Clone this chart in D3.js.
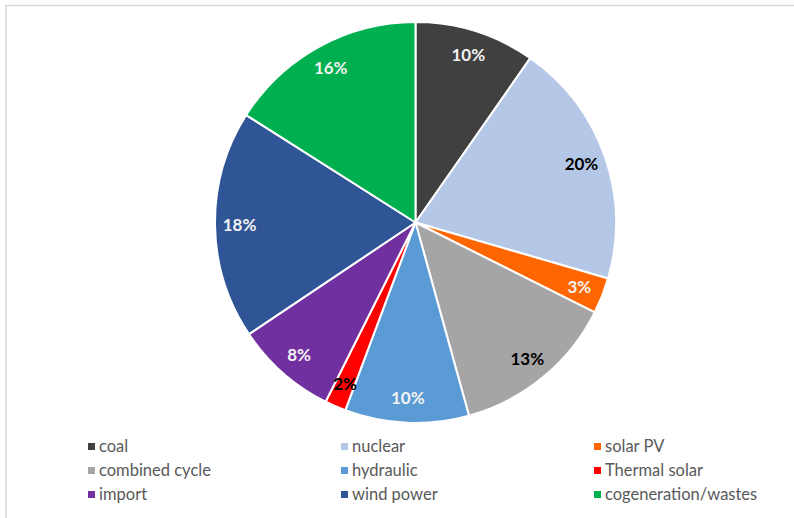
<!DOCTYPE html>
<html><head><meta charset="utf-8">
<script src="https://cdn.jsdelivr.net/npm/d3@7"></script>
<style>body{margin:0;background:#fff;} svg{display:block;}</style>
</head><body>
<svg id="c" width="794" height="518"></svg>
<script>
const categories = ["coal","nuclear","solar PV","combined cycle","hydraulic","Thermal solar","import","wind power","cogeneration/wastes"];
const values = [9.7, 19.8, 2.9, 13.3, 10.0, 1.7, 8.2, 18.4, 16.0];
const colors = ["#404040","#b4c7e7","#ff6600","#a5a5a5","#5b9bd5","#ff0000","#7030a0","#2f5597","#00b050"];
const labelColors = ["#f2f2f2","#000000","#f2f2f2","#000000","#f2f2f2","#000000","#f2f2f2","#f2f2f2","#f2f2f2"];

const svg = d3.select("#c");
const W = 794, H = 518;
const font = "Lato, 'Open Sans', sans-serif";

svg.append("rect").attr("x",6).attr("y",5.5).attr("width",W+10).attr("height",H+10)
  .attr("fill","#fff").attr("stroke","#d9d9d9").attr("stroke-width",1.5);

const cx = 415.5, cy = 222.5, R = 200.5;
const data = categories.map((c,i)=>({cat:c, v:values[i], i}));
const total = d3.sum(values);
const pie = d3.pie().value(d=>d.v).sort(null);
const arc = d3.arc().innerRadius(0).outerRadius(R);
const labelArc = d3.arc().innerRadius(176).outerRadius(176);
const color = d3.scaleOrdinal().domain(categories).range(colors);
const fmt = d3.format(".0%");

const g = svg.append("g").attr("transform",`translate(${cx},${cy})`);
const arcs = pie(data);
g.selectAll("path").data(arcs).join("path")
  .attr("d",arc).attr("fill",d=>color(d.data.cat))
  .attr("stroke","#fff").attr("stroke-width",2).attr("stroke-linejoin","round");

g.selectAll("text").data(arcs).join("text")
  .attr("transform",d=>`translate(${labelArc.centroid(d)})`)
  .attr("text-anchor","middle").attr("dy","0.36em")
  .attr("font-family",font).attr("font-weight","bold").attr("font-size",17)
  .attr("fill",d=>labelColors[d.data.i])
  .text(d=>fmt(d.data.v/total));

// legend
const colX = d3.scalePoint().domain([0,1,2]).range([88,594]);
const rowY = d3.scalePoint().domain([0,1,2]).range([446.5,494.5]);
const lg = svg.append("g");
const items = lg.selectAll("g").data(categories).join("g")
  .attr("transform",(d,i)=>`translate(${colX(i%3)},${rowY(Math.floor(i/3))})`);
items.append("rect").attr("x",0).attr("y",-3.5).attr("width",7).attr("height",7).attr("fill",d=>color(d));
items.append("text").attr("x",11).attr("dy","0.35em")
  .attr("font-family",font).attr("font-size",16.5).attr("fill","#595959").text(d=>d);
</script>
</body></html>
